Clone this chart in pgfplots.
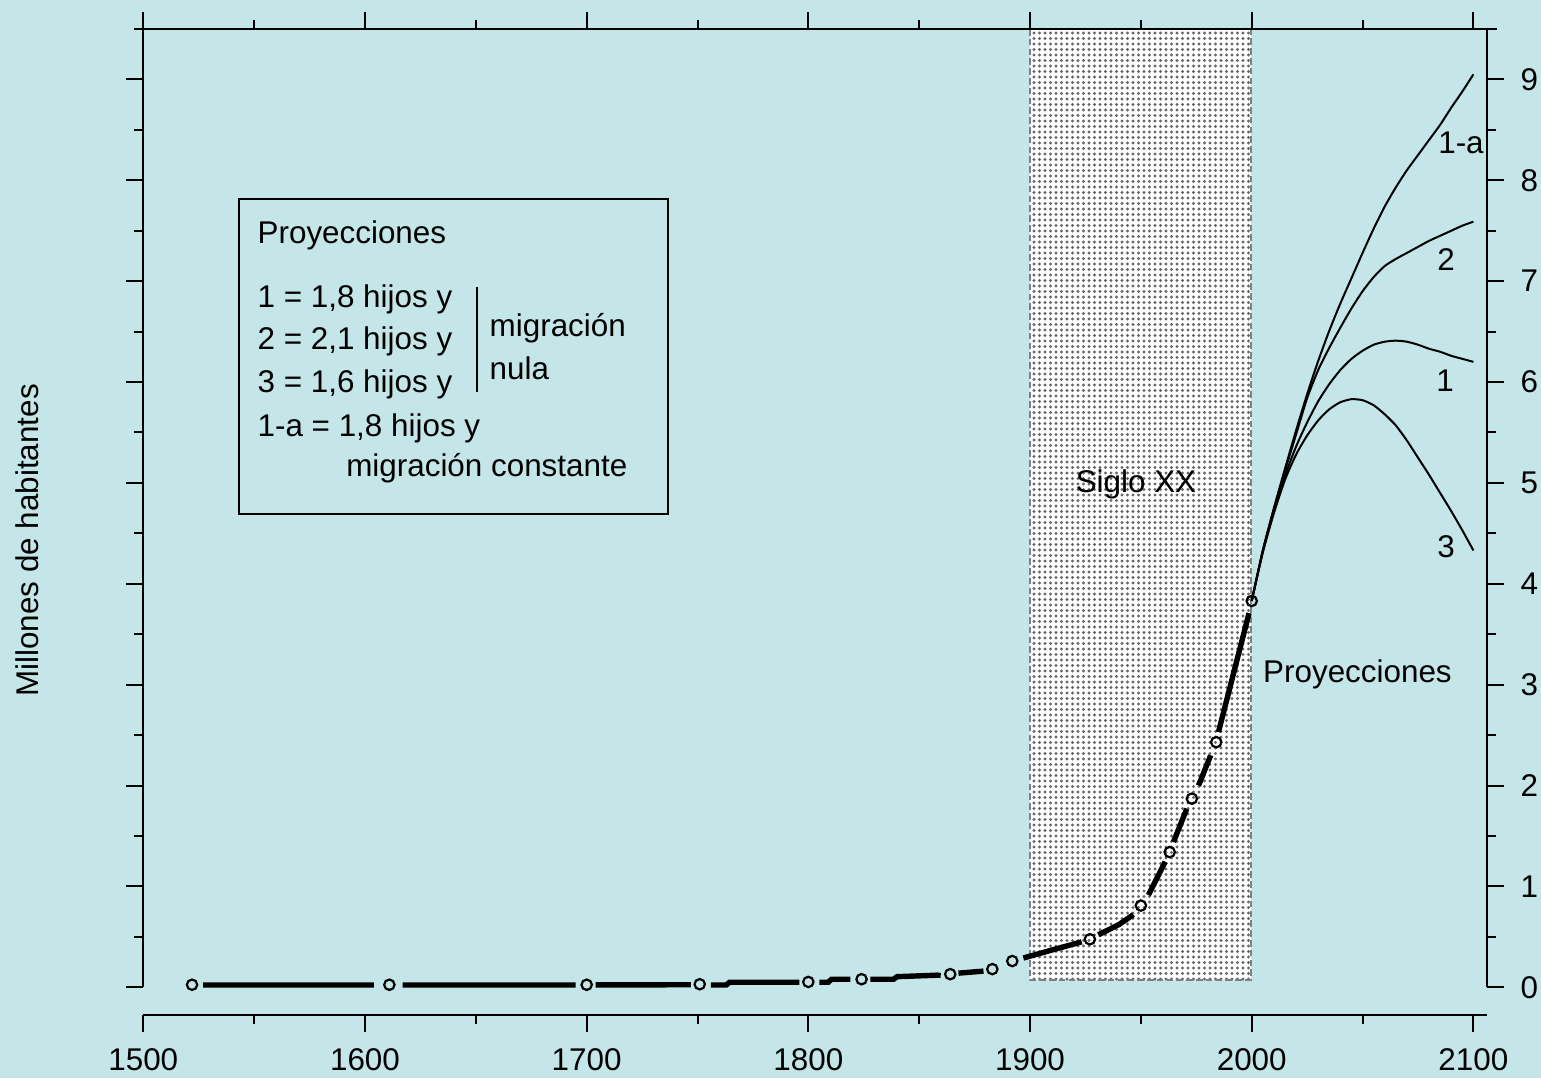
\documentclass[border=0pt]{standalone}
\usepackage{fontspec}
\setmainfont{Liberation Sans}
\usepackage{pgfplots}
\pgfplotsset{compat=1.18}
\usetikzlibrary{backgrounds,patterns.meta}
\definecolor{fondo}{RGB}{196,230,232}
\definecolor{borde}{RGB}{128,128,128}

\begin{document}
\fontsize{15.7}{18.8}\selectfont
\begin{tikzpicture}
\begin{axis}[
    scale only axis,
    width=671.7pt, height=493pt,
    xmin=1500, xmax=2106,
    ymin=-0.275, ymax=9.5,
    clip=false,
    axis line style={draw=none},
    tick align=outside,
    xticklabel pos=lower, yticklabel pos=right,
    xtick pos=both, ytick pos=both,
    xtick={1500,1600,...,2100}, minor x tick num=1,
    ytick={0,1,...,9}, minor y tick num=1,
    major tick length=8.5pt, minor tick length=4.5pt,
    tick style={black, line width=1pt},
    /pgf/number format/assume math mode=true,
    /pgf/number format/set thousands separator={},
    ticklabel style={font=\fontsize{15.7}{18.8}\selectfont, inner sep=1pt},
    xticklabel style={yshift=-7.2pt},
    yticklabel style={xshift=7.2pt},
  ]
  % zona Siglo XX
  \addplot[draw=none, preaction={fill=white},
    pattern={Dots[distance=2.75pt,radius=0.8pt]}, pattern color=borde!80!black]
    coordinates {(1900,0.07) (1900,9.5) (1999.5,9.5) (1999.5,0.07)} -- cycle;
  \addplot[borde, line width=1.1pt, dash pattern=on 3.3pt off 1.6pt]
    coordinates {(1900,9.5) (1900,0.07) (1999.5,0.07) (1999.5,9.5)};

  % ejes
  \draw[line width=1pt] (axis cs:1495.9,9.5) -- (axis cs:2110.5,9.5);
  \draw[line width=1pt] (axis cs:1500,0) -- (axis cs:1500,9.5);
  \draw[line width=1pt] (axis cs:2106,0) -- (axis cs:2106,9.5);
  \draw[line width=1pt] (axis cs:1500,-0.275) -- (axis cs:2106.2,-0.275);

  % serie historica (tramos entre censos)
  \addplot[black, line width=2.7pt, unbounded coords=jump] coordinates {
    (1527,0.023) (1604,0.023) (1610,nan)
    (1617,0.023) (1695,0.023) (1700,nan)
    (1704,0.023) (1747,0.025) (1751,nan)
    (1756,0.023) (1763,0.023) (1764.5,0.05) (1796,0.05) (1800,nan)
    (1805,0.05) (1809,0.05) (1810.5,0.08) (1819,0.08) (1824,nan)
    (1828,0.08) (1838.5,0.08) (1840,0.105) (1858.5,0.12) (1858.6,0.145) (1864,nan)
    (1867.7,0.14) (1879,0.16) (1885,nan)
    (1897,0.29) (1910,0.37) (1923.3,0.45) (1927,nan)
    (1930.8,0.52) (1940,0.62) (1946.6,0.72) (1950,nan)
    (1953.4,0.915) (1961,1.245) (1963,nan)
    (1964.7,1.44) (1970.7,1.77) (1973,nan)
    (1976,2.0) (1981.5,2.3) (1984,nan)
    (1985,2.53) (1998.8,3.71)
  };
  \addplot[only marks, mark=o, mark size=2.6pt, mark options={line width=1.1pt}] coordinates {
    (1522,0.025) (1611,0.025) (1700,0.025) (1751,0.03) (1800,0.053)
    (1824,0.08) (1864,0.13) (1883,0.18) (1892,0.26) (1927,0.476)
    (1950,0.81) (1963,1.34) (1973,1.87) (1984,2.43) (2000,3.83)
  };

  % proyecciones
  \addplot[black, line width=1pt, smooth, tension=0.4] coordinates { % 1-a
    (2000,3.83) (2005,4.33) (2010,4.75) (2015,5.14) (2020,5.52) (2025,5.88)
    (2030,6.21) (2035,6.51) (2040,6.78) (2045,7.03) (2050,7.28) (2055,7.52)
    (2060,7.74) (2065,7.93) (2070,8.10) (2075,8.25) (2080,8.40) (2085,8.55)
    (2090,8.72) (2095,8.88) (2100,9.05)
  };
  \addplot[black, line width=1pt, smooth, tension=0.4] coordinates { % 2
    (2000,3.83) (2005,4.33) (2010,4.74) (2015,5.12) (2020,5.48) (2025,5.84)
    (2030,6.12) (2035,6.34) (2040,6.54) (2045,6.73) (2050,6.90) (2055,7.04)
    (2060,7.15) (2065,7.22) (2070,7.28) (2075,7.34) (2080,7.40) (2085,7.45)
    (2090,7.50) (2095,7.55) (2100,7.59)
  };
  \addplot[black, line width=1pt, smooth, tension=0.4] coordinates { % 1
    (2000,3.83) (2005,4.32) (2010,4.72) (2015,5.07) (2020,5.36) (2025,5.60)
    (2030,5.81) (2035,5.98) (2040,6.12) (2045,6.23) (2050,6.31) (2055,6.37)
    (2060,6.40) (2065,6.41) (2070,6.40) (2075,6.37) (2080,6.33) (2085,6.30)
    (2090,6.26) (2095,6.23) (2100,6.20)
  };
  \addplot[black, line width=1pt, smooth, tension=0.4] coordinates { % 3
    (2000,3.83) (2005,4.31) (2010,4.70) (2015,5.03) (2020,5.28) (2025,5.47)
    (2030,5.62) (2035,5.73) (2040,5.80) (2045,5.83) (2050,5.82) (2055,5.77)
    (2060,5.68) (2065,5.57) (2070,5.42) (2075,5.25) (2080,5.08) (2085,4.90)
    (2090,4.72) (2095,4.53) (2100,4.33)
  };

  % textos
  \node[rotate=90] at (axis cs:1447.5,4.43) {Millones de habitantes};
  \node at (axis cs:1947.8,4.99) {Siglo XX};
  \node[anchor=west, inner sep=0pt] at (axis cs:2005,3.1) {Proyecciones};
  \node at (axis cs:2094.4,8.37) {1-a};
  \node at (axis cs:2087.7,7.21) {2};
  \node at (axis cs:2087.2,6.01) {1};
  \node at (axis cs:2087.7,4.37) {3};

  % recuadro
  \draw[line width=1pt] (axis cs:1543.2,4.69) rectangle (axis cs:1736.7,7.81);
  \node[anchor=base west, inner sep=0pt] at (axis cs:1551.4,7.37) {Proyecciones};
  \node[anchor=base west, inner sep=0pt] at (axis cs:1551.4,6.74) {1 = 1,8 hijos y};
  \node[anchor=base west, inner sep=0pt] at (axis cs:1551.4,6.32) {2 = 2,1 hijos y};
  \node[anchor=base west, inner sep=0pt] at (axis cs:1551.4,5.90) {3 = 1,6 hijos y};
  \node[anchor=base west, inner sep=0pt] at (axis cs:1551.4,5.46) {1-a = 1,8 hijos y};
  \node[anchor=base west, inner sep=0pt] at (axis cs:1591.4,5.06) {migración constante};
  \node[anchor=base west, inner sep=0pt] at (axis cs:1656.1,6.45) {migración};
  \node[anchor=base west, inner sep=0pt] at (axis cs:1656.1,6.03) {nula};
  \draw[line width=1pt] (axis cs:1650.4,6.94) -- (axis cs:1650.4,5.90);

  \coordinate (SW) at (rel axis cs:0,0);
  \coordinate (NE) at (rel axis cs:1,1);
\end{axis}
\begin{scope}[on background layer]
  \fill[fondo] ([shift={(-71.65pt,-31.5pt)}]SW) rectangle ([shift={(27.15pt,14.5pt)}]NE);
\end{scope}
\pgfresetboundingbox
\path[use as bounding box] ([shift={(-71.65pt,-31.5pt)}]SW) rectangle ([shift={(27.15pt,14.5pt)}]NE);
\end{tikzpicture}
\end{document}
